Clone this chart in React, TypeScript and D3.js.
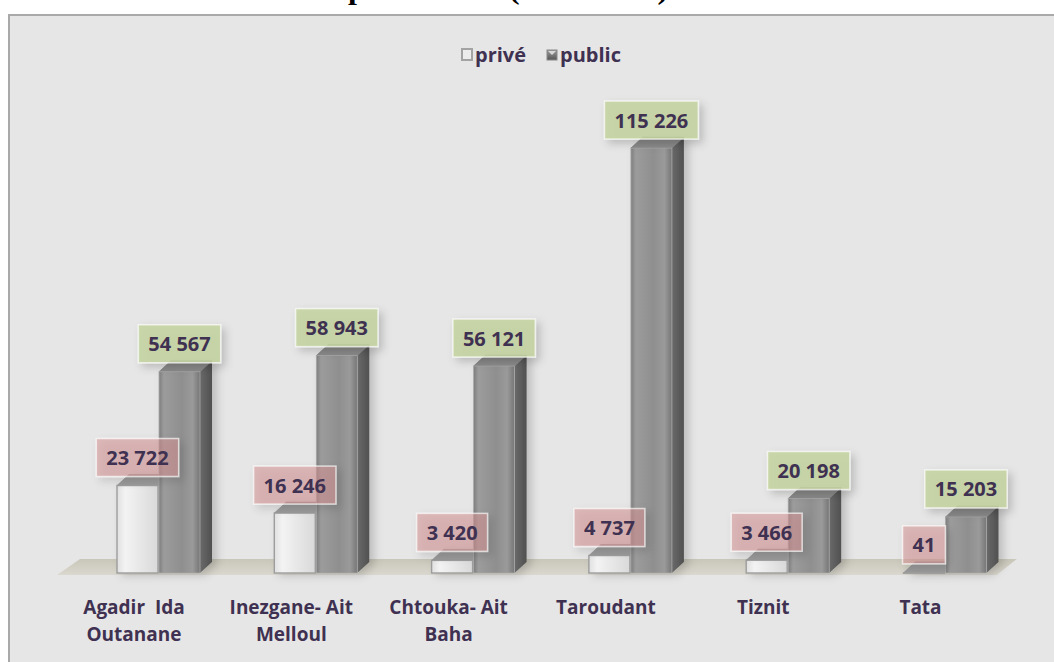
import React, { useEffect, useRef } from 'react';
import * as d3 from 'd3';

const categories = ['Agadir  Ida\nOutanane', 'Inezgane- Ait\nMelloul', 'Chtouka- Ait\nBaha', 'Taroudant', 'Tiznit', 'Tata'];
const seriesNames = ['privé', 'public'];
const priveValues = [23722, 16246, 3420, 4737, 3466, 41];
const publicValues = [54567, 58943, 56121, 115226, 20198, 15203];
const titleText = 'préfectures (2014-2015)';

const W = 1054;
const H = 662;
const DX = 12;
const DY = 11;
const TEXT = '#3f3151';
const FONT = "'Open Sans', 'DejaVu Sans', sans-serif";

export default function App() {
  const ref = useRef<SVGSVGElement | null>(null);

  useEffect(() => {
    document.body.style.margin = '0';
    const svg = d3.select(ref.current);
    svg.selectAll('*').remove();

    const fmt = d3.formatLocale({ decimal: ',', thousands: ' ', grouping: [3], currency: ['', ''] }).format(',d');

    const x = d3.scaleBand<string>().domain(categories).range([40, 40 + 157.3 * 6]).padding(0);
    const xs = d3.scaleBand<string>().domain(seriesNames).range([0, 83]).paddingInner(0.024);
    const y = d3.scaleLinear().domain([0, 120000]).range([573, 573 - 120000 * 0.003688]);
    const groupOffset = 77;

    const defs = svg.append('defs');
    const lin = (id: string, stops: [number, string][], vertical = false) => {
      const g = defs.append('linearGradient').attr('id', id)
        .attr('x1', 0).attr('y1', 0).attr('x2', vertical ? 0 : 1).attr('y2', vertical ? 1 : 0);
      stops.forEach(([o, c]) => g.append('stop').attr('offset', o).attr('stop-color', c));
    };
    lin('pubFront', [[0, '#7e7e7e'], [0.12, '#9c9c9c'], [0.55, '#8f8f8f'], [0.82, '#9a9a9a'], [1, '#767676']]);
    lin('pubSide', [[0, '#6a6a6a'], [1, '#505050']]);
    lin('privFront', [[0, '#e0e0e0'], [0.2, '#f3f3f3'], [1, '#d9d9d9']]);
    lin('floorGrad', [[0, '#c9c6b9'], [1, '#dad8cf']], true);
    lin('legPub', [[0, '#9a9a9a'], [1, '#555555']], true);

    const f = defs.append('filter').attr('id', 'shadow').attr('x', '-30%').attr('y', '-30%').attr('width', '160%').attr('height', '180%');
    f.append('feDropShadow').attr('dx', 4).attr('dy', 4).attr('stdDeviation', 4)
      .attr('flood-color', '#000').attr('flood-opacity', 0.22);
    const fb = defs.append('filter').attr('id', 'barShadow').attr('x', '-30%').attr('y', '-10%').attr('width', '180%').attr('height', '130%');
    fb.append('feDropShadow').attr('dx', 5).attr('dy', 2).attr('stdDeviation', 4)
      .attr('flood-color', '#000').attr('flood-opacity', 0.18);

    // title (cropped at top, as in the reference)
    svg.append('text').attr('x', 348).attr('y', -1.5)
      .attr('font-family', "'Liberation Serif', 'Times New Roman', serif")
      .attr('font-weight', 'bold').attr('font-size', 28)
      .attr('textLength', 320).attr('lengthAdjust', 'spacingAndGlyphs')
      .attr('fill', '#000').text(titleText);

    // frame
    svg.append('rect').attr('x', 9).attr('y', 15).attr('width', W).attr('height', H)
      .attr('fill', '#e6e6e6').attr('stroke', '#a9a9a9').attr('stroke-width', 2);

    // legend
    const leg = svg.append('g');
    leg.append('rect').attr('x', 462).attr('y', 49).attr('width', 10).attr('height', 11)
      .attr('fill', '#ececec').attr('stroke', '#a3a3a3').attr('stroke-width', 2);
    leg.append('text').attr('x', 475).attr('y', 62).attr('font-family', FONT).attr('font-weight', 'bold')
      .attr('font-size', 20).attr('fill', TEXT).text(seriesNames[0]);
    leg.append('rect').attr('x', 547).attr('y', 50).attr('width', 10).attr('height', 10)
      .attr('fill', 'url(#legPub)').attr('stroke', '#888').attr('stroke-width', 1);
    leg.append('path').attr('d', 'M548,51 L556,51 L552,55 Z').attr('fill', '#d8d8d8');
    leg.append('text').attr('x', 560).attr('y', 62).attr('font-family', FONT).attr('font-weight', 'bold')
      .attr('font-size', 20).attr('fill', TEXT).text(seriesNames[1]);

    // floor
    const r0 = x.range()[0];
    const r1 = x.range()[1];
    svg.append('polygon')
      .attr('points', `${r0 + 17},575 ${r0 + 40},559 ${r1 + 33},559 ${r1 + 13},575`)
      .attr('fill', 'url(#floorGrad)');

    const drawBar = (g: any, x0: number, w: number, v: number, kind: string) => {
      const yb = y(0);
      const yt = y(v);
      const isPub = kind === 'public';
      g.append('polygon')
        .attr('points', `${x0 + w},${yb} ${x0 + w + DX},${yb - DY} ${x0 + w + DX},${yt - DY} ${x0 + w},${yt}`)
        .attr('fill', isPub ? 'url(#pubSide)' : '#b4b4b4');
      g.append('polygon')
        .attr('points', `${x0},${yt} ${x0 + DX},${yt - DY} ${x0 + w + DX},${yt - DY} ${x0 + w},${yt}`)
        .attr('fill', isPub ? '#8a8a8a' : '#9a9a9a')
        .attr('stroke', isPub ? '#7a7a7a' : '#8f8f8f').attr('stroke-width', 0.6);
      g.append('rect').attr('x', x0).attr('y', yt).attr('width', w).attr('height', Math.max(0.3, yb - yt))
        .attr('fill', isPub ? 'url(#pubFront)' : 'url(#privFront)')
        .attr('stroke', isPub ? '#a9a9a9' : '#9d9d9d').attr('stroke-width', isPub ? 0.8 : 1.4);
    };

    const barsG = svg.append('g');
    categories.forEach((c, i) => {
      const x0 = (x(c) as number) + groupOffset;
      const gg = barsG.append('g').attr('filter', 'url(#barShadow)');
      drawBar(gg, x0 + (xs('privé') as number), xs.bandwidth(), priveValues[i], 'privé');
      drawBar(gg, x0 + (xs('public') as number), xs.bandwidth(), publicValues[i], 'public');
    });

    // data labels
    const labelsG = svg.append('g');
    const addLabel = (cx: number, yTop: number, v: number, fill: string) => {
      const g = labelsG.append('g');
      const rect = g.append('rect');
      const t = g.append('text').attr('x', cx).attr('y', yTop - 9 - 19)
        .attr('text-anchor', 'middle').attr('dominant-baseline', 'central')
        .attr('font-family', FONT).attr('font-weight', 'bold').attr('font-size', 20)
        .attr('fill', TEXT).text(fmt(v));
      const tw = (t.node() as SVGTextElement).getComputedTextLength();
      const bw = tw + 20;
      rect.attr('x', cx - bw / 2).attr('y', yTop - 9 - 38).attr('width', bw).attr('height', 38)
        .attr('fill', fill).attr('stroke', 'rgba(255,255,255,0.65)').attr('stroke-width', 1.5)
        .attr('filter', 'url(#shadow)');
    };
    categories.forEach((c, i) => {
      const x0 = (x(c) as number) + groupOffset;
      const w = xs.bandwidth();
      addLabel(x0 + (xs('privé') as number) + w / 2, y(priveValues[i]), priveValues[i], 'rgba(214,148,148,0.55)');
      addLabel(x0 + (xs('public') as number) + w / 2, y(publicValues[i]), publicValues[i], 'rgba(196,212,160,0.85)');
    });

    // category labels
    const catG = svg.append('g');
    categories.forEach((c) => {
      const cx = (x(c) as number) + groupOffset + 17;
      c.split('\n').forEach((line, k) => {
        catG.append('text').attr('x', cx).attr('y', 614 + k * 27)
          .attr('text-anchor', 'middle').style('white-space', 'pre')
          .attr('font-family', FONT).attr('font-weight', 'bold').attr('font-size', 19)
          .attr('fill', TEXT).text(line);
      });
    });
  }, []);

  return (
    <div style={{ position: 'absolute', left: 0, top: 0 }}>
      <svg ref={ref} width={W} height={H} style={{ display: 'block' }} />
    </div>
  );
}
